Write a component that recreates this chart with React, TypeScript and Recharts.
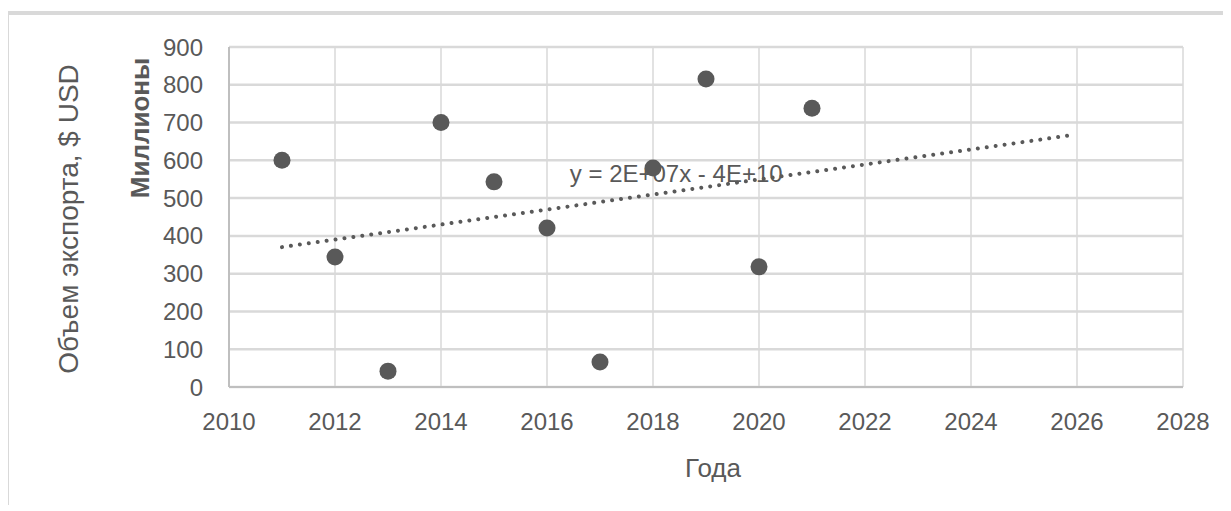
import React from 'react';
import { ScatterChart, Scatter, XAxis, YAxis, CartesianGrid, ReferenceDot } from 'recharts';

const years = [2011, 2012, 2013, 2014, 2015, 2016, 2017, 2018, 2019, 2020, 2021];
const exportValues = [600, 344, 42, 700, 543, 421, 66, 580, 815, 318, 738];
const xTicks = [2010, 2012, 2014, 2016, 2018, 2020, 2022, 2024, 2026, 2028];
const yTicks = [0, 100, 200, 300, 400, 500, 600, 700, 800, 900];
const trendStart = 2011;
const trendEnd = 2025.9;
const equationText = 'y = 2E+07x - 4E+10';
const equationAnchor = { x: 2016.43, y: 543 };

const points = years.map((x, i) => ({ x, y: exportValues[i] }));

// linear least-squares trendline, as Excel computes it
const n = years.length;
const meanX = years.reduce((a, b) => a + b, 0) / n;
const meanY = exportValues.reduce((a, b) => a + b, 0) / n;
let sxy = 0;
let sxx = 0;
years.forEach((x, i) => {
  sxy += (x - meanX) * (exportValues[i] - meanY);
  sxx += (x - meanX) * (x - meanX);
});
const slope = sxy / sxx;
const intercept = meanY - slope * meanX;
const trend = [trendStart, trendEnd].map((x) => ({ x, y: intercept + slope * x }));

const GREY = '#595959';
const FONT = '"Liberation Sans", Arial, sans-serif';

const YTitle = (props: any) => {
  const vb = props.viewBox || { x: 0, y: 32, width: 220, height: 340 };
  const cy = vb.y + vb.height / 2 + 2;
  return (
    <g>
      <text
        x={59}
        y={cy}
        transform={`rotate(-90, 59, ${cy})`}
        textAnchor="middle"
        dominantBaseline="central"
        fill={GREY}
        fontSize={28}
        fontFamily={FONT}
      >
        Объем экспорта, $ USD
      </text>
      <text
        x={131}
        y={vb.y + 81}
        transform={`rotate(-90, 131, ${vb.y + 81})`}
        textAnchor="middle"
        dominantBaseline="central"
        fill={GREY}
        fontSize={26}
        fontWeight="bold"
        fontFamily={FONT}
      >
        Миллионы
      </text>
    </g>
  );
};

const XTitle = (props: any) => {
  const vb = props.viewBox || { x: 220, y: 372, width: 954, height: 118 };
  return (
    <text
      x={vb.x + vb.width / 2 + 7}
      y={vb.y + 81}
      textAnchor="middle"
      dominantBaseline="central"
      fill={GREY}
      fontSize={26}
      fontFamily={FONT}
    >
      Года
    </text>
  );
};

export default function App() {
  return (
    <div style={{ paddingTop: 3 }}>
      <div
        style={{
          borderTop: '4px solid #d9d9d9',
          borderLeft: '1px solid #d9d9d9',
          width: 1214,
          height: 490,
        }}
      >
        <ScatterChart width={1214} height={490} margin={{ top: 32, right: 40, bottom: 0, left: 0 }}>
          <CartesianGrid horizontal={true} vertical={false} stroke="#d9d9d9" strokeWidth={2.5} />
          <CartesianGrid horizontal={false} vertical={true} stroke="#d9d9d9" strokeWidth={1.5} />
          <XAxis
            type="number"
            dataKey="x"
            domain={[2010, 2028]}
            ticks={xTicks}
            tickLine={false}
            tickSize={0}
            tickMargin={26}
            height={118}
            axisLine={{ stroke: '#bfbfbf', strokeWidth: 2 }}
            tick={{ fill: GREY, fontSize: 24, fontFamily: FONT }}
            interval={0}
            allowDataOverflow
            label={{ content: XTitle }}
          />
          <YAxis
            type="number"
            dataKey="y"
            domain={[0, 900]}
            ticks={yTicks}
            tickLine={false}
            tickSize={0}
            tickMargin={26}
            width={220}
            axisLine={{ stroke: '#bfbfbf', strokeWidth: 2 }}
            tick={{ fill: GREY, fontSize: 24, fontFamily: FONT }}
            interval={0}
            allowDataOverflow
            label={{ content: YTitle }}
          />
          <Scatter
            data={trend}
            isAnimationActive={false}
            line={{ stroke: GREY, strokeWidth: 4, strokeDasharray: '0.01 9', strokeLinecap: 'round' }}
            shape={() => <g />}
          />
          <Scatter
            data={points}
            isAnimationActive={false}
            shape={(p: any) => <circle cx={p.cx} cy={p.cy} r={8.5} fill={GREY} />}
          />
          <ReferenceDot
            x={equationAnchor.x}
            y={equationAnchor.y}
            r={0}
            ifOverflow="visible"
            shape={(p: any) => (
              <text x={p.cx} y={p.cy} fill={GREY} fontSize={24} fontFamily={FONT}>
                {equationText}
              </text>
            )}
          />
        </ScatterChart>
      </div>
    </div>
  );
}
